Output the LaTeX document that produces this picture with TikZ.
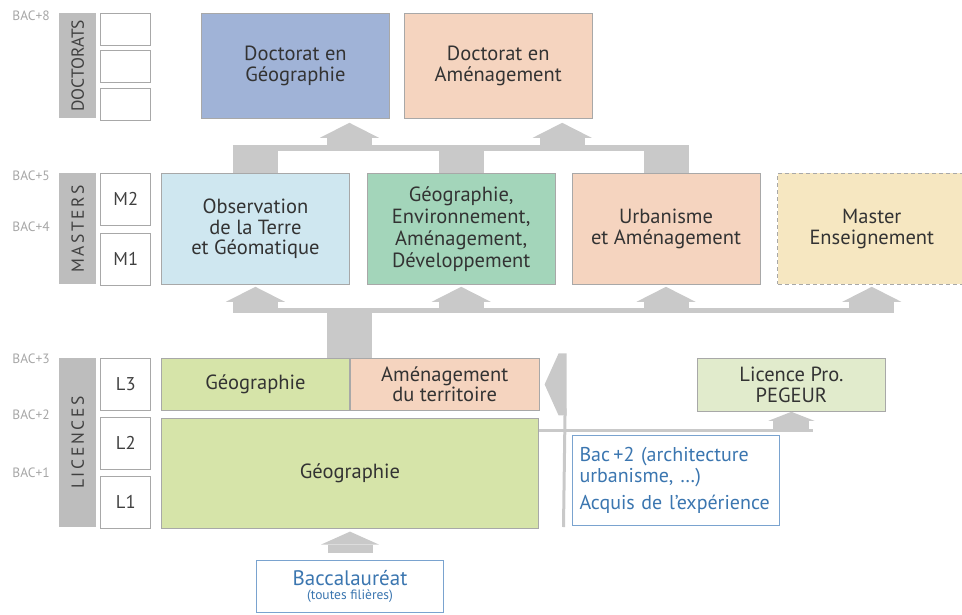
\documentclass[tikz,border=0pt]{standalone}
\usepackage{fontspec}
\setmainfont{PT Sans}
\usetikzlibrary{positioning}
\usetikzlibrary{calc}
\usetikzlibrary{arrows.meta}

\definecolor{docblue}{HTML}{A0B3D7}
\definecolor{peach}{HTML}{F5D4BF}
\definecolor{obsblue}{HTML}{CFE7F0}
\definecolor{geogreen}{HTML}{A3D5BA}
\definecolor{ensyellow}{HTML}{F6E7C1}
\definecolor{licgreen}{HTML}{D6E4A9}
\definecolor{progreen}{HTML}{E1EBCC}
\definecolor{flowgray}{HTML}{C9C9C9}
\definecolor{sidegray}{HTML}{BDBDBD}
\definecolor{boxline}{HTML}{A8A8A8}
\definecolor{bacblue}{HTML}{3B76B0}
\definecolor{bacline}{HTML}{7AA3CF}

\tikzset{
  box/.style={draw=boxline, line width=0.8pt, minimum width=188pt, inner sep=0pt, align=center, text=black!80, font=\fontsize{20.5}{20.5}\selectfont},
  bluebox/.style={draw=bacline, line width=1pt, fill=white, inner sep=0pt, text=bacblue},
  sidebar/.style={fill=sidegray, minimum width=37pt, inner sep=0pt, text=black!75, font=\fontsize{17.5}{17.5}\selectfont},
  rowbox/.style={draw=boxline, line width=0.8pt, fill=white, minimum width=50pt, minimum height=52pt, inner sep=0pt, text=black!75, font=\fontsize{18.5}{18.5}\selectfont},
  bacmark/.style={anchor=east, inner sep=0pt, text=black!35, font=\fontsize{13.5}{13.5}\selectfont},
  flow/.style={draw=flowgray, line width=45pt, -{Triangle[length=15pt, width=59pt, line width=0pt]}},
  trunk/.style={draw=flowgray, line width=45pt},
  thinflow/.style={draw=flowgray, line width=3pt},
}

\begin{document}
\begin{tikzpicture}[x=1pt, y=1pt]
    \useasboundingbox (0,0) rectangle (962,-614);

    % Doctorats
    \node[box, fill=docblue, minimum height=105pt, anchor=north west] (dG) at (201,-13) {Doctorat en\\Géographie};
    \node[box, fill=peach, minimum height=105pt, right=14pt of dG] (dA) {Doctorat en\\Aménagement};

    % Masters
    \node[box, fill=obsblue, minimum height=111pt, anchor=north west] (mOT) at (161,-173) {Observation\\de la Terre\\et Géomatique};
    \node[box, fill=geogreen, minimum height=111pt, font=\fontsize{20.5}{22}\selectfont, right=17pt of mOT] (mGE) {Géographie,\\Environnement,\\Aménagement,\\Développement};
    \node[box, fill=peach, minimum height=111pt, right=16pt of mGE] (mUA) {Urbanisme\\et Aménagement};
    \node[box, fill=ensyellow, dash pattern=on 4pt off 3pt, minimum height=111pt, right=17pt of mUA] (mME) {Master\\Enseignement};

    % Licences
    \node[box, fill=licgreen, minimum height=52pt, anchor=north west] (lG3) at (161,-358) {Géographie};
    \node[box, fill=peach, minimum height=52pt, minimum width=189pt, right=0pt of lG3] (lAT) {Aménagement\\du territoire};
    \node[box, fill=licgreen, minimum width=377pt, minimum height=110pt, below right=7pt and 0pt of lG3.south west] (lG) {Géographie};
    \node[box, fill=progreen, minimum height=53pt, anchor=north west] (lPro) at (697,-358) {Licence Pro.\\PEGEUR};

    % Entrees
    \node[bluebox, minimum width=207pt, minimum height=90pt, text width=193pt, inner xsep=7pt, align=left, anchor=north west, font=\fontsize{20}{21}\selectfont] (bac2) at (572,-435) {Bac\,+2 (architecture\\urbanisme, …)\\[6pt]Acquis de l’expérience};
    \node[bluebox, minimum width=187pt, minimum height=52pt, align=center, anchor=north west] (bac) at (256,-560) {{\fontsize{21}{22}\selectfont Baccalauréat}\\[2pt]{\fontsize{13.5}{14}\selectfont (toutes filières)}};

    % Niveaux
    \node[sidebar, minimum height=105pt, anchor=north west] (sD) at (59,-13) {\rotatebox{90}{DOCTORATS}};
    \node[sidebar, minimum height=111pt, anchor=north west] (sM) at (59,-173) {\rotatebox{90}{\addfontfeatures{LetterSpace=15}MASTERS}};
    \node[sidebar, minimum height=169pt, anchor=north west] (sL) at (59,-358) {\rotatebox{90}{\addfontfeatures{LetterSpace=15}LICENCES}};

    \node[rowbox, minimum height=32pt, below right=0pt and 4pt of sD.north east] (d3) {};
    \node[rowbox, minimum height=32pt, below=4.5pt of d3] (d2) {};
    \node[rowbox, minimum height=32pt, below=4.5pt of d2] (d1) {};
    \node[rowbox, below right=0pt and 4pt of sM.north east] (m2) {M2};
    \node[rowbox, below=7pt of m2] (m1) {M1};
    \node[rowbox, below right=0pt and 4pt of sL.north east] (l3) {L3};
    \node[rowbox, below=6pt of l3] (l2) {L2};
    \node[rowbox, below=6pt of l2] (l1) {L1};

    \foreach \n/\y in {8/16, 5/176, 4/227, 3/359, 2/415, 1/473}
      \node[bacmark] (b\n) at (50,-\y) {BAC+\n};

    % Fleches
    \coordinate (topbar) at ($(mOT.north)+(0,28)$);
    \foreach \m in {mOT,mGE,mUA}
      \draw[trunk] (\m.north) -- (\m.north |- topbar);
    \draw[flowgray, line width=6pt] ($(mOT.north |- topbar)+(-22.5,-3)$) -- ($(mUA.north |- topbar)+(22.5,-3)$);
    \draw[flow] ($(topbar -| dG.south)+(54,0)$) -- ($(dG.south)+(54,-4)$);
    \draw[flow] ($(topbar -| dA.south)+(64,0)$) -- ($(dA.south)+(64,-4)$);

    \coordinate (midbar) at ($(lG3.north east)+(0,50)$);
    \draw[trunk] (lG3.north east) -- (midbar);
    \draw[flowgray, line width=5.5pt] ($(mOT.south |- midbar)+(-22.5,-2.5)$) -- ($(mME.south |- midbar)+(22.5,-2.5)$);
    \foreach \m in {mOT,mGE,mUA,mME}
      \draw[flow] (\m.south |- midbar) -- ($(\m.south)+(0,-2)$);

    \draw[flow, -{Triangle[length=13pt, width=58pt, line width=0pt]}] ($(bac.north)+(0,7)$) -- ($(bac.north |- lG.south)+(0,-3)$);

    \coordinate (turn) at ($(lAT.east)+(5,0)$);
    \fill[flowgray] (turn) -- ++(14,31) -- ++(8,0) -- ++(0,-62) -- ++(-8,0) -- cycle;
    \draw[thinflow] ($(bac2.south west)+(-8.5,-1)$) -- ($(turn)+(20.5,-24)$);
    \coordinate (proFoot) at ($(lPro.south)+(0,-18.5)$);
    \draw[thinflow] (proFoot -| lG.east) -- ($(proFoot)+(22,0)$);
    \draw[flow, line width=36pt, -{Triangle[length=9pt, width=46pt, line width=0pt]}] ($(proFoot)+(0,-1.5)$) -- (lPro.south);
\end{tikzpicture}
\end{document}
